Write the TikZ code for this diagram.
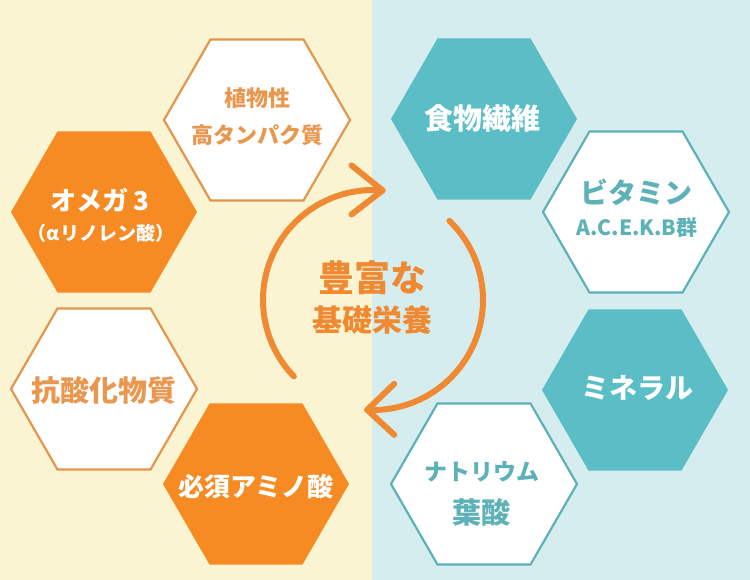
\documentclass[tikz,border=0pt]{standalone}
\usepackage{fontspec}
\setmainfont{Noto Sans CJK JP}
\usetikzlibrary{shapes.geometric,calc}
\definecolor{bgL}{HTML}{FBF4D2}
\definecolor{bgR}{HTML}{D5EDEF}
\definecolor{orF}{HTML}{F68B24}
\definecolor{orT}{HTML}{E9974E}
\definecolor{orE}{HTML}{E3964C}
\definecolor{tlF}{HTML}{5BBDC5}
\definecolor{tlT}{HTML}{5DB2B8}
\definecolor{tlE}{HTML}{5DB1B7}
\definecolor{arC}{HTML}{EF8A33}
\newcommand{\fsz}[1]{\fontsize{#1}{#1}\selectfont\bfseries}
\begin{document}
\begin{tikzpicture}[x=1pt,y=1pt,
  hexbase/.style={regular polygon, regular polygon sides=6, minimum size=186pt, inner sep=0pt, outer sep=0pt},
  hexor/.style={hexbase, fill=orF},
  hexorw/.style={hexbase, fill=white, draw=orE, line width=2.2pt},
  hextl/.style={hexbase, fill=tlF},
  hextlw/.style={hexbase, fill=white, draw=tlE, line width=2.2pt},
  txt/.style={inner sep=0pt, anchor=center},
  cyc/.style={draw=arC, line width=6pt, line cap=round, line join=round}]
\useasboundingbox (0,0) rectangle (750,-580);
\fill[bgL] (0,0) rectangle (372,-580);
\fill[bgR] (372,0) rectangle (750,-580);
% hexagons
\node[hexorw] (h1) at (257,-120) {};
\node[hexor]  (h2) at (104,-212) {};
\node[hexorw] (h3) at (104,-389) {};
\node[hexor]  (h4) at (256,-484) {};
\node[hextl]  (h5) at (484,-119) {};
\node[hextlw] (h6) at (636,-212) {};
\node[hextl]  (h7) at (635,-390) {};
\node[hextlw] (h8) at (484,-484) {};
% cycle arrows
\coordinate (c) at (373,-300);
\draw[cyc] (c) ++(224:110pt) arc[start angle=224, end angle=85, radius=110pt] coordinate (tipA);
\draw[cyc] ($(tipA)+(-31,25)$) -- (tipA) -- ($(tipA)+(-31,-24)$);
\draw[cyc] (c) ++(46:110pt) arc[start angle=46, end angle=-93, radius=110pt] coordinate (tipB);
\draw[cyc] ($(tipB)+(27,26)$) -- (tipB) -- ($(tipB)+(27,-25)$);
% texts
\node[txt, text=orT] (t1a) at (257,-98) {\fsz{22}植物性};
\node[txt, text=orT] (t1b) at (257,-135) {\fsz{22}高タンパク質};
\node[txt, text=white] (t2a) at (100,-200) {\fsz{26}オメガ\,3};
\node[txt, text=white] (t2b) at (101,-233) {\fsz{19}（αリノレン酸）};
\node[txt, text=orT] (t3) at (104,-390) {\fsz{29}抗酸化物質};
\node[txt, text=white] (t4) at (256,-487) {\fsz{26}必須アミノ酸};
\node[txt, text=white] (t5) at (482,-118) {\fsz{29}食物繊維};
\node[txt, text=tlT] (t6a) at (636,-192) {\fsz{28}ビタミン};
\node[txt, text=tlT] (t6b) at (637,-228) {\fsz{21}A.C.E.K.B群};
\node[txt, text=white] (t7) at (637,-388) {\fsz{28}ミネラル};
\node[txt, text=tlT] (t8a) at (482,-472) {\fsz{23}ナトリウム};
\node[txt, text=tlT] (t8b) at (481,-512) {\fsz{29}葉酸};
\node[txt, text=arC] (tc1) at (372,-278) {\fsz{36}豊富な};
\node[txt, text=arC] (tc2) at (372,-320) {\fsz{30}基礎栄養};
\end{tikzpicture}
\end{document}
